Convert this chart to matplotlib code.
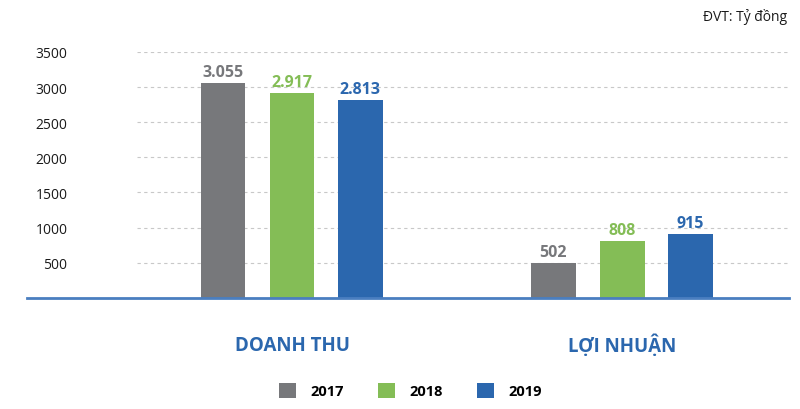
import matplotlib.pyplot as plt
from matplotlib.patches import Patch
import numpy as np

plt.rcParams['font.family'] = ['Open Sans', 'DejaVu Sans']

categories = ['DOANH THU', 'LỢI NHUẬN']
years = ['2017', '2018', '2019']
values = {
    '2017': [3055, 502],
    '2018': [2917, 808],
    '2019': [2813, 915],
}
value_labels = {
    '2017': ['3.055', '502'],
    '2018': ['2.917', '808'],
    '2019': ['2.813', '915'],
}
yticks = [500, 1000, 1500, 2000, 2500, 3000, 3500]
colors = {'2017': '#77787B', '2018': '#84BD56', '2019': '#2B67AE'}

fig = plt.figure(figsize=(8, 4.1), dpi=100)
ax = fig.add_axes([0.171, 0.271, 0.817, 0.600])

x = np.arange(len(categories))
offsets = [-0.209, 0.0, 0.206]
width = 0.136

for yr, off in zip(years, offsets):
    bars = ax.bar(x + off, values[yr], width, color=colors[yr], zorder=3)
    for b, lab in zip(bars, value_labels[yr]):
        ax.text(b.get_x() + b.get_width() / 2, b.get_height() + 40, lab,
                ha='center', va='bottom', color=colors[yr],
                fontsize=11.5, fontweight='bold')

ax.set_xlim(-0.47, 1.509)
ax.set_ylim(0, 3500)
ax.set_yticks(yticks)
ax.set_yticklabels([str(t) for t in yticks], fontsize=10, color='#1a1a1a')
ax.tick_params(axis='y', length=0, pad=50)
ax.set_xticks([])
for s in ax.spines.values():
    s.set_visible(False)
ax.yaxis.grid(True, linestyle=(0, (3, 3)), color='#C8C8C8', linewidth=0.8, zorder=0)

# blue baseline running further left than the grid
ax.axhline(0, xmin=-0.168, xmax=0.9985, color='#4A7EC0', linewidth=2, clip_on=False, zorder=4)

for xi, cat in zip(x, categories):
    ax.text(xi, -0.19, cat, transform=ax.get_xaxis_transform(), ha='center', va='center',
            color='#2B67AE', fontsize=13.5, fontweight='bold')

fig.text(0.984, 0.958, 'ĐVT: Tỷ đồng', ha='right', va='center', fontsize=10, color='#1a1a1a')

handles = [Patch(facecolor=colors[y], edgecolor='none') for y in years]
leg = fig.legend(handles, years, loc='center', bbox_to_anchor=(0.513, 0.045), ncol=3,
                 frameon=False, handlelength=1.2, handleheight=1.2, handletextpad=1.0,
                 columnspacing=2.3, prop={'weight': 'bold', 'size': 10.5})

fig.savefig('out.png', dpi=100)
